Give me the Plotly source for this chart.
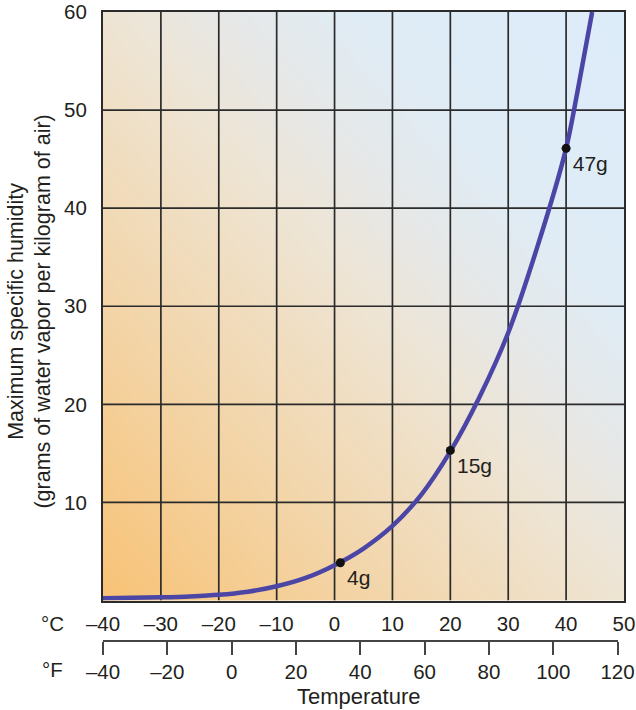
import plotly.graph_objects as go

# saturation curve (deg C -> g water vapour per kg air)
temp_c = [-40, -35, -30, -25, -20, -15, -10, -5, 0, 5, 10, 15, 20, 25, 30, 35, 40, 42, 44.5]
humidity = [0.22, 0.27, 0.33, 0.42, 0.58, 0.9, 1.45, 2.3, 3.6, 5.3, 7.6, 10.8, 15.2, 20.7,
            27.3, 36.0, 46.1, 52.0, 60.0]

# marked points
point_c = [1, 20, 40]
point_g = [3.85, 15.3, 46.1]
point_labels = ['4g', '15g', '47g']

# axis ticks
c_ticks = [-40, -30, -20, -10, 0, 10, 20, 30, 40, 50]
f_ticks = [-40, -20, 0, 20, 40, 60, 80, 100, 120]
y_ticks = [10, 20, 30, 40, 50, 60]

FONT = 'Liberation Sans, Arial, Helvetica, sans-serif'
INK = '#231f20'
GRID = '#2b2b2b'

def dash(v):
    return ('\u2013' + str(abs(v))) if v < 0 else str(v)

c_min, c_max = c_ticks[0], c_ticks[-1]
y_min, y_max = 0, y_ticks[-1]

fig = go.Figure()

# background wash, orange bottom-left to pale blue top-right
fig.add_trace(go.Heatmap(
    x=[c_min, c_max], y=[y_min, y_max], z=[[0, 1], [1, 2]],
    zsmooth='best', showscale=False, hoverinfo='skip',
    colorscale=[[0, '#f8c275'], [0.25, '#f3d4a6'], [0.5, '#eee4d3'],
                [0.62, '#e6e8e8'], [0.75, '#dfecf6'], [1, '#dcecf9']],
))

# grid drawn on top of the wash
gx, gy = [], []
for c in c_ticks[1:-1]:
    gx += [c, c, None]
    gy += [y_min, y_max, None]
for v in y_ticks[:-1]:
    gx += [c_min, c_max, None]
    gy += [v, v, None]
fig.add_trace(go.Scatter(x=gx, y=gy, mode='lines', line=dict(color=GRID, width=1.7),
                         hoverinfo='skip', showlegend=False))

fig.add_trace(go.Scatter(x=temp_c, y=humidity, mode='lines',
                         line=dict(color='#4b46a6', width=4.5, shape='spline', smoothing=0.8),
                         showlegend=False))

fig.add_trace(go.Scatter(x=point_c, y=point_g, mode='markers+text', text=point_labels,
                         textposition='bottom right',
                         textfont=dict(family=FONT, size=21, color=INK),
                         marker=dict(color='#111111', size=9), showlegend=False))

# dummy trace so the Fahrenheit axis is drawn
fig.add_trace(go.Scatter(x=f_ticks, y=[None] * len(f_ticks), xaxis='x2', yaxis='y',
                         mode='markers', showlegend=False, hoverinfo='skip'))

# Fahrenheit bracket ends at 120 F
f_end_c = (f_ticks[-1] - 32) / 1.8
f_domain_end = (f_end_c - c_min) / (c_max - c_min)

fig.update_layout(
    width=636, height=710,
    margin=dict(l=103, r=12, t=12, b=20),
    paper_bgcolor='white', plot_bgcolor='rgba(0,0,0,0)',
    font=dict(family=FONT, size=20, color=INK),
    xaxis=dict(range=[c_min, c_max], tickvals=c_ticks, ticktext=[dash(v) for v in c_ticks],
               showgrid=False, zeroline=False, ticks='', ticklabelstandoff=4, automargin=False,
               ticklabeloverflow='allow', tickfont=dict(size=20.5),
               showline=True, mirror=True, linecolor=GRID, linewidth=2, layer='above traces'),
    xaxis2=dict(range=[f_ticks[0], f_ticks[-1]], domain=[0, f_domain_end],
                anchor='free', position=0.0723, side='bottom', automargin=False,
                tickvals=f_ticks, ticktext=[dash(v) for v in f_ticks],
                ticklabeloverflow='allow', tickfont=dict(size=20.5),
                showgrid=False, zeroline=False, showline=True, linecolor='#444', linewidth=1.5,
                ticks='outside', ticklen=13, tickwidth=1.5, tickcolor='#444'),
    yaxis=dict(range=[y_min, y_max], domain=[0.132, 1], tickvals=y_ticks, automargin=False,
               showgrid=False, zeroline=False, ticks='', ticklabelstandoff=10,
               ticklabeloverflow='allow', tickfont=dict(size=20.5),
               showline=True, mirror=True, linecolor=GRID, linewidth=2, layer='above traces'),
    annotations=[
        dict(text='Maximum specific humidity<br>(grams of water vapor per kilogram of air)',
             xref='paper', yref='paper', x=-0.141, y=0.5575, textangle=-90,
             xanchor='center', yanchor='middle', showarrow=False, font=dict(size=21.5)),
        dict(text='°C', xref='paper', yref='paper', x=-0.096, y=0.0988,
             xanchor='center', yanchor='middle', showarrow=False, font=dict(size=20.5)),
        dict(text='°F', xref='paper', yref='paper', x=-0.096, y=0.0295,
             xanchor='center', yanchor='middle', showarrow=False, font=dict(size=20.5)),
        dict(text='Temperature', xref='paper', yref='paper', x=0.492, y=-0.00885,
             xanchor='center', yanchor='middle', showarrow=False, font=dict(size=22)),
    ],
)

# drop the default page margin so the figure sits at the window's corner
fig.write_html('out.html', config={'displayModeBar': False},
               post_script="document.body.style.margin='0';")
